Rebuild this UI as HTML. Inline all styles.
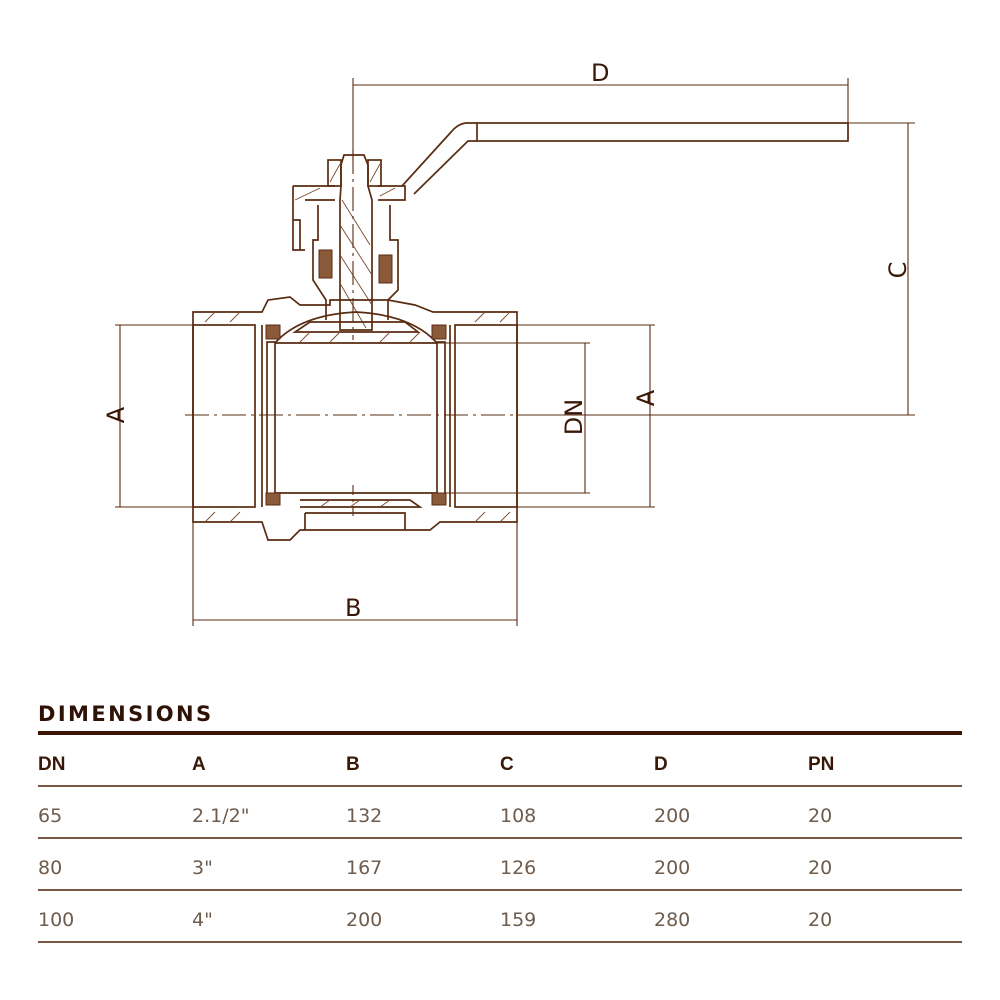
<!DOCTYPE html>
<html><head><meta charset="utf-8"><style>
html,body{margin:0;padding:0;background:#fff}
svg{display:block}
.l{stroke:#5a2c12;fill:none;stroke-width:1.7}
.t{stroke:#5a2c12;fill:none;stroke-width:1.1}
.h{stroke:#7a4a2a;stroke-width:0.9}
.dim{font-family:"DejaVu Sans","Liberation Sans",sans-serif;fill:#3a1808;font-size:24px}
.hd{font-family:"Liberation Sans",sans-serif;font-weight:bold;fill:#3a1808;font-size:19px}
.td{font-family:"DejaVu Sans","Liberation Sans",sans-serif;fill:#6e5c4c;font-size:19px}
</style></head><body>
<svg width="1000" height="1000" viewBox="0 0 1000 1000" xmlns="http://www.w3.org/2000/svg">
<rect width="1000" height="1000" fill="#fff"/>
<!-- D dimension -->
<line class="t" x1="353" y1="78" x2="353" y2="160"/>
<line class="t" x1="353" y1="85" x2="848" y2="85"/>
<line class="t" x1="848" y1="78" x2="848" y2="140"/>
<text class="dim" x="591" y="81">D</text>
<!-- handle -->
<rect class="l" x="477" y="123" width="371" height="18"/>
<path class="l" d="M477 123 L466 123 Q458 124 452 131 L402 186"/>
<path class="l" d="M477 141 L468 141 L414 194"/>
<!-- C dimension -->
<line class="t" x1="848" y1="123" x2="915" y2="123"/>
<line class="t" x1="908" y1="123" x2="908" y2="415"/>
<line class="t" x1="520" y1="415" x2="915" y2="415"/>
<text class="dim" transform="translate(906,270) rotate(-90)" text-anchor="middle">C</text>
<!-- stem/bonnet -->
<rect class="l" x="328" y="160" width="13" height="26"/>
<rect class="l" x="368" y="160" width="13" height="26"/>
<path class="l" d="M344 155 L364 155 L368 165 L368 186 L372 200 L372 330 L340 330 L340 200 L341 186 L341 165 Z"/>
<path class="l" d="M293 186 L335 186 M378 186 L405 186 L405 200 L378 200 M293 186 L293 250 L305 250 M293 220 L300 220 L300 250 M305 200 L335 200"/>
<path class="l" d="M318 205 L318 240 L313 240 L313 280 L326 300 L326 320 M390 205 L390 240 L398 240 L398 290 L388 300 L388 320"/>
<rect x="319" y="250" width="13" height="28" fill="#8a5a3a" stroke="#5a2c12"/>
<rect x="379" y="255" width="13" height="28" fill="#8a5a3a" stroke="#5a2c12"/>
<g class="h">
<line x1="342" y1="200" x2="370" y2="245"/><line x1="340" y1="225" x2="372" y2="275"/><line x1="340" y1="255" x2="372" y2="305"/><line x1="341" y1="285" x2="366" y2="328"/>
<line x1="295" y1="200" x2="320" y2="188"/><line x1="380" y1="196" x2="395" y2="188"/>
<line x1="330" y1="182" x2="340" y2="164"/><line x1="370" y1="182" x2="380" y2="164"/>
</g>
<!-- body -->
<path class="l" d="M193 312 L262 312 L268 300 L290 297 L300 305 L330 305 L330 300 L388 300 L415 305 L433 312 L517 312 L517 522 L440 522 L430 530 L300 530 L290 540 L268 540 L262 522 L193 522 Z"/>
<rect class="l" x="193" y="325" width="62" height="182"/>
<rect class="l" x="455" y="325" width="62" height="182"/>
<line class="l" x1="262" y1="325" x2="262" y2="507"/>
<line class="l" x1="450" y1="325" x2="450" y2="507"/>
<rect class="l" x="267" y="342" width="8" height="152"/>
<rect class="l" x="437" y="342" width="8" height="152"/>
<path class="l" d="M275 343 Q300 315 356 312 Q412 315 437 343"/>
<path class="l" d="M295 332 L418 332 L405 322 L310 322 Z"/>
<line class="l" x1="275" y1="343" x2="437" y2="343"/>
<line class="l" x1="275" y1="493" x2="437" y2="493"/>
<path class="l" d="M300 500 L410 500 L420 507 L300 507 M305 513 L405 513 L405 530 M305 513 L305 530"/>
<rect x="266" y="325" width="14" height="14" fill="#8a5a3a" stroke="#5a2c12"/>
<rect x="432" y="325" width="14" height="14" fill="#8a5a3a" stroke="#5a2c12"/>
<rect x="266" y="493" width="14" height="12" fill="#8a5a3a" stroke="#5a2c12"/>
<rect x="432" y="493" width="14" height="12" fill="#8a5a3a" stroke="#5a2c12"/>
<g class="h">
<line x1="205" y1="322" x2="215" y2="312"/><line x1="230" y1="322" x2="240" y2="312"/><line x1="475" y1="322" x2="485" y2="312"/><line x1="500" y1="322" x2="510" y2="312"/>
<line x1="205" y1="522" x2="215" y2="512"/><line x1="230" y1="522" x2="240" y2="512"/><line x1="475" y1="522" x2="485" y2="512"/><line x1="500" y1="522" x2="510" y2="512"/>
<line x1="300" y1="342" x2="310" y2="332"/><line x1="330" y1="342" x2="340" y2="332"/><line x1="380" y1="342" x2="390" y2="332"/><line x1="410" y1="342" x2="420" y2="332"/>
<line x1="320" y1="507" x2="330" y2="500"/><line x1="350" y1="507" x2="360" y2="500"/><line x1="380" y1="507" x2="390" y2="500"/>
</g>
<!-- centerlines -->
<line class="t" x1="185" y1="415" x2="530" y2="415" stroke-dasharray="24 5 3 5"/>
<line class="t" x1="353" y1="150" x2="353" y2="340" stroke-dasharray="24 5 3 5"/>
<line class="t" x1="353" y1="485" x2="353" y2="520" stroke-dasharray="10 4 3 4"/>
<!-- A left -->
<line class="t" x1="115" y1="325" x2="193" y2="325"/>
<line class="t" x1="115" y1="507" x2="193" y2="507"/>
<line class="t" x1="120" y1="325" x2="120" y2="507"/>
<text class="dim" transform="translate(124,415) rotate(-90)" text-anchor="middle">A</text>
<!-- A right -->
<line class="t" x1="517" y1="325" x2="655" y2="325"/>
<line class="t" x1="517" y1="507" x2="655" y2="507"/>
<line class="t" x1="650" y1="325" x2="650" y2="507"/>
<text class="dim" transform="translate(654,398) rotate(-90)" text-anchor="middle">A</text>
<!-- DN -->
<line class="t" x1="437" y1="343" x2="590" y2="343"/>
<line class="t" x1="437" y1="493" x2="590" y2="493"/>
<line class="t" x1="585" y1="343" x2="585" y2="493"/>
<text class="dim" transform="translate(582,417) rotate(-90)" text-anchor="middle">DN</text>
<!-- B -->
<line class="t" x1="193" y1="522" x2="193" y2="626"/>
<line class="t" x1="517" y1="522" x2="517" y2="626"/>
<line class="t" x1="193" y1="620" x2="517" y2="620"/>
<text class="dim" x="345" y="616">B</text>
<!-- table -->
<text x="38" y="721" font-family="'DejaVu Sans','Liberation Sans',sans-serif" font-weight="bold" font-size="21" letter-spacing="2.4" fill="#2e1206">DIMENSIONS</text>
<rect x="38" y="731" width="924" height="4" fill="#3a1606"/>
<g class="hd">
<text x="38" y="770">DN</text><text x="192" y="770">A</text><text x="346" y="770">B</text><text x="500" y="770">C</text><text x="654" y="770">D</text><text x="808" y="770">PN</text>
</g>
<g fill="#7a5a42">
<rect x="38" y="785" width="924" height="2"/>
<rect x="38" y="837" width="924" height="2"/>
<rect x="38" y="889" width="924" height="2"/>
<rect x="38" y="941" width="924" height="2"/>
</g>
<g class="td">
<text x="38" y="822">65</text><text x="192" y="822">2.1/2"</text><text x="346" y="822">132</text><text x="500" y="822">108</text><text x="654" y="822">200</text><text x="808" y="822">20</text>
<text x="38" y="874">80</text><text x="192" y="874">3"</text><text x="346" y="874">167</text><text x="500" y="874">126</text><text x="654" y="874">200</text><text x="808" y="874">20</text>
<text x="38" y="926">100</text><text x="192" y="926">4"</text><text x="346" y="926">200</text><text x="500" y="926">159</text><text x="654" y="926">280</text><text x="808" y="926">20</text>
</g>
</svg>
</body></html>
